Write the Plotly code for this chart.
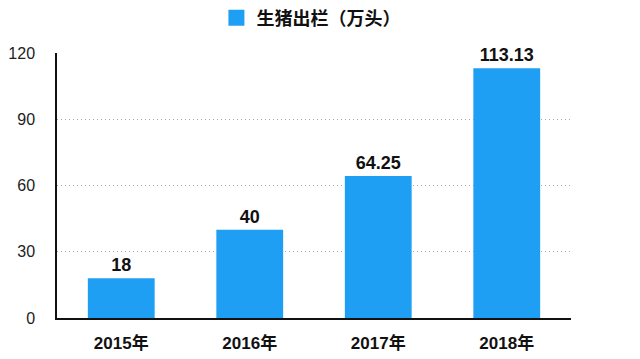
import plotly.graph_objects as go

categories = ["2015年", "2016年", "2017年", "2018年"]
values = [18, 40, 64.25, 113.13]
value_labels = ["18", "40", "64.25", "113.13"]
series_name = "生猪出栏（万头）"
y_ticks = [0, 30, 60, 90, 120]

FONT = "Liberation Sans, Noto Sans CJK SC, sans-serif"
BAR_COLOR = "#1f9ff4"

fig = go.Figure()
fig.add_trace(go.Bar(
    x=categories, y=values, name=series_name, showlegend=False,
    marker=dict(color=BAR_COLOR, line=dict(width=0)),
    width=0.52,
    text=value_labels, textposition="outside", cliponaxis=False,
    textfont=dict(family=FONT, size=18, color="#111111", weight="bold"),
))
# legend-only entry with a larger square swatch
fig.add_trace(go.Scatter(
    x=[None], y=[None], mode="markers", name=series_name,
    marker=dict(symbol="square", size=17, color=BAR_COLOR),
))

# the page body adds an 8px offset, so the figure is sized/margined to compensate
fig.update_layout(
    width=632, height=351,
    margin=dict(l=49, r=69, t=45, b=41, autoexpand=False),
    paper_bgcolor="white", plot_bgcolor="white",
    showlegend=True,
    legend=dict(orientation="h", x=0.494, xanchor="center", y=1.132, yanchor="middle",
                xref="paper", yref="paper", itemwidth=30,
                font=dict(family=FONT, size=18, color="#111111", weight="bold")),
    font=dict(family=FONT),
)

fig.update_xaxes(
    showline=True, linecolor="#111111", linewidth=1.5,
    showgrid=False, ticks="", ticklabelstandoff=9,
    tickfont=dict(family=FONT, size=17, color="#111111", weight="bold"),
)
fig.update_yaxes(
    range=[0, 120], tickvals=y_ticks, showline=True, linecolor="#111111", linewidth=1.5,
    showgrid=True, gridcolor="#a8a8a8", griddash="1px,3px", gridwidth=1,
    zeroline=False, ticks="", ticklabelstandoff=17,
    tickfont=dict(family=FONT, size=16, color="#222222"),
)

fig.write_html("out.html")
